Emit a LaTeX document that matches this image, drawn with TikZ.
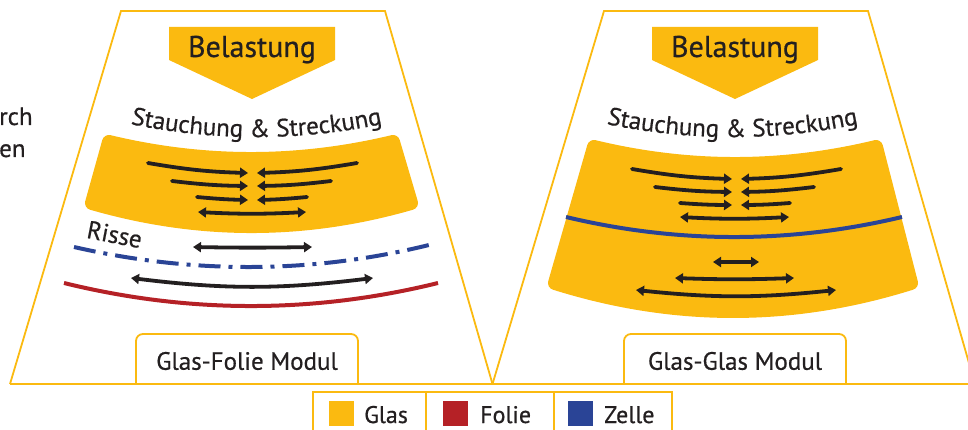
\documentclass[tikz,border=0pt]{standalone}
\usepackage{fontspec}
\setmainfont{PT Sans}[FakeBold=0.6]
\usetikzlibrary{arrows.meta,decorations.text}
\definecolor{glas}{HTML}{FBBA10}
\definecolor{folie}{HTML}{B52126}
\definecolor{zelle}{HTML}{2A4496}
\definecolor{ink}{HTML}{231F20}
\newcommand\stchfont{\fontsize{25}{25}\selectfont}
\begin{document}
\begin{tikzpicture}[x=1pt,y=-1pt,
  frame/.style={draw=glas, line width=1.8pt, line join=miter},
  glassbody/.style={fill=glas, draw=glas, line width=14pt, line join=round},
  belast/.style={fill=glas},
  arr/.style={draw=ink, line width=3.8pt, line cap=round, -{Triangle[length=8pt,width=10pt]}},
  darr/.style={draw=ink, line width=3.8pt, {Triangle[length=8pt,width=10pt]}-{Triangle[length=8pt,width=10pt]}},
  bigtext/.style={text=ink, font=\fontsize{30}{30}\selectfont, inner sep=0pt},
  midtext/.style={text=ink, font=\fontsize{25}{25}\selectfont, inner sep=0pt},
  legtext/.style={text=ink, font=\fontsize{24}{24}\selectfont, inner sep=0pt, anchor=base west},
  curvetext/.style={decorate, decoration={text along path, text align=center,
     text={|\stchfont\color{ink}|Stauchung {\&} Streckung}}}
]
\useasboundingbox (0,0) rectangle (968,430);
\clip (0,0) rectangle (968,430);

% cropped text at the left edge
\node[midtext, anchor=base west] (rch) at (-1,125) {rch};
\node[midtext, anchor=base west] (en) at (-1,157) {en};

% ---------- frames ----------
\draw[frame] (10,384) -- (121,11) -- (385,11) -- (492.5,384);
\draw[frame] (492.5,384) -- (604,11) -- (868,11) -- (975,384);
\draw[frame] (10,384) -- (968,384);

% ---------- left panel : Glas-Folie ----------
\fill[belast] (169,27) -- (335,27) -- (335,60) -- (252,99) -- (169,60) -- cycle;
\node[bigtext, anchor=base] (belL) at (252,57) {Belastung};
\path[curvetext] (90,114.3) .. controls (201,144.6) and (312,144.6) .. (423,114.3);

\path[glassbody] (109,142) .. controls (204,164.7) and (298,164.7) .. (393,142)
   -- (411,203) .. controls (304.7,233.7) and (198.3,233.7) .. (92,203) -- cycle;

\draw[arr] (148,163) to[bend right=4] (248,173);
\draw[arr] (357,163) to[bend left=4] (257,173);
\draw[arr] (172,181) to[bend right=3] (248,186);
\draw[arr] (331,181) to[bend left=3] (257,186);
\draw[arr] (197,197) to[bend right=2] (248,200);
\draw[arr] (307,197) to[bend left=2] (257,200);
\draw[darr] (198,212) to[bend right=3] (306,212);

\node[midtext, anchor=base, rotate=-11] (risse) at (113,243) {Risse};
\draw[darr] (193,247) to[bend right=1] (312,247);
\draw[draw=zelle, line width=4pt, dash pattern=on 22pt off 8pt on 4pt off 8pt]
   (74,247) .. controls (192,274) and (311,274) .. (429,245);
\draw[darr] (131,278) to[bend right=7] (373,278);
\draw[draw=folie, line width=4pt] (64,283) .. controls (188.7,313.7) and (313.3,313.7) .. (438,283);

\draw[frame, rounded corners=7pt] (136,384) -- (136,334) -- (358,334) -- (358,384);
\node[midtext] (modL) at (247,361) {Glas-Folie Modul};

% ---------- right panel : Glas-Glas ----------
\fill[belast] (652,27) -- (818,27) -- (818,60) -- (735,99) -- (652,60) -- cycle;
\node[bigtext, anchor=base] (belR) at (735,57) {Belastung};
\path[curvetext] (566,114.3) .. controls (677,144.6) and (788,144.6) .. (899,114.3);

\path[glassbody] (594,147) .. controls (688,169.7) and (782,169.7) .. (876,147)
   -- (911,283) .. controls (792.3,320.3) and (673.7,320.3) .. (555,283) -- cycle;

\draw[arr] (632,169) to[bend right=4] (732,179);
\draw[arr] (841,169) to[bend left=4] (741,179);
\draw[arr] (655,187) to[bend right=3] (732,192);
\draw[arr] (814,187) to[bend left=3] (741,192);
\draw[arr] (680,203) to[bend right=2] (732,205);
\draw[arr] (790,203) to[bend left=2] (741,205);
\draw[darr] (680,217) to[bend right=3] (789,217);

\draw[draw=zelle, line width=4pt] (566,217) .. controls (678,243.7) and (790,243.7) .. (902,217);

\draw[darr] (713,262) -- (759,262);
\draw[darr] (675,278) to[bend right=2] (794,278);
\draw[darr] (636,290) to[bend right=6] (836,290);

\draw[frame, rounded corners=7pt] (624,384) -- (624,334) -- (846,334) -- (846,384);
\node[midtext] (modR) at (735,361) {Glas-Glas Modul};

% ---------- legend ----------
\draw[frame] (313,440) -- (313,392) -- (672,392) -- (672,440);
\draw[frame] (426,392) -- (426,440);
\draw[frame] (554,392) -- (554,440);
\fill[glas]  (329,401) rectangle (354,426);
\fill[folie] (443,401) rectangle (468,426);
\fill[zelle] (568,401) rectangle (593,426);
\node[legtext] (lg1) at (364,423) {Glas};
\node[legtext] (lg2) at (480,423) {Folie};
\node[legtext] (lg3) at (604,423) {Zelle};
\end{tikzpicture}
\end{document}
